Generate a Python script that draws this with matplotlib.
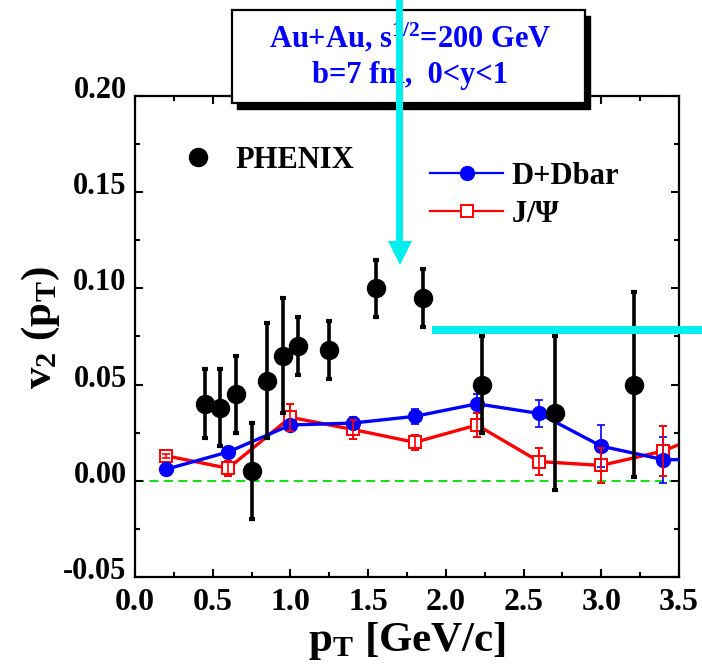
import matplotlib
matplotlib.use('Agg')
import matplotlib.pyplot as plt
import matplotlib.transforms as mtransforms
from matplotlib.lines import Line2D
from matplotlib.patches import Rectangle, Polygon
from matplotlib.ticker import MultipleLocator

plt.rcParams['font.family'] = ['Liberation Serif', 'DejaVu Serif']
plt.rcParams['font.weight'] = 'bold'
plt.rcParams['axes.labelweight'] = 'bold'
plt.rcParams['mathtext.fontset'] = 'custom'
plt.rcParams['mathtext.rm'] = 'Liberation Serif:bold'
plt.rcParams['mathtext.it'] = 'Liberation Serif:bold'
plt.rcParams['mathtext.bf'] = 'Liberation Serif:bold'

# PHENIX measured v2
phenix_pt = [0.45, 0.55, 0.65, 0.75, 0.85, 0.95, 1.05, 1.25, 1.55, 1.85, 2.23, 2.70, 3.21]
phenix_v2 = [0.040, 0.038, 0.045, 0.005, 0.052, 0.065, 0.070, 0.068, 0.100, 0.095, 0.050, 0.035, 0.050]
phenix_err = [0.018, 0.020, 0.020, 0.025, 0.030, 0.030, 0.015, 0.015, 0.015, 0.015, 0.025, 0.040, 0.048]

# model curves
model_pt = [0.2, 0.6, 1.0, 1.4, 1.8, 2.2, 2.6, 3.0, 3.4, 3.8]
d_v2 = [0.006, 0.015, 0.029, 0.030, 0.0335, 0.040, 0.035, 0.018, 0.011, 0.011]
d_err = [0.001, 0.001, 0.002, 0.003, 0.004, 0.005, 0.007, 0.011, 0.012, 0.012]
jpsi_v2 = [0.013, 0.0065, 0.033, 0.0267, 0.020, 0.029, 0.010, 0.008, 0.0155, 0.029]
jpsi_err = [0.001, 0.004, 0.007, 0.005, 0.004, 0.006, 0.007, 0.009, 0.013, 0.013]

W, H = 702, 670
fig = plt.figure(figsize=(W / 100, H / 100), dpi=100)
ax = fig.add_axes([135 / W, 1 - 577 / H, 544 / W, 481 / H])

ax.axhline(0, color='#00dd00', lw=1.3, dashes=(5, 3), zorder=1)

ax.errorbar(model_pt, jpsi_v2, yerr=jpsi_err, color='red', lw=2.4, marker='s', ms=9,
            mfc='white', mec='red', mew=1.4, elinewidth=1.2, capsize=3, capthick=1.2,
            zorder=2)
ax.errorbar(model_pt, d_v2, yerr=d_err, color='blue', lw=2.4, marker='o', ms=10,
            mfc='blue', mec='blue', elinewidth=1.2, capsize=3, capthick=1.2, zorder=3)
ax.errorbar(model_pt, jpsi_v2, yerr=jpsi_err, fmt='none', ecolor='red',
            elinewidth=1.2, capsize=3, capthick=1.2, zorder=4)
ax.errorbar(phenix_pt, phenix_v2, yerr=phenix_err, fmt='o', color='black', ms=13,
            elinewidth=2.6, capsize=2.5, capthick=3, zorder=5)

ax.set_xlim(0, 3.5)
ax.set_ylim(-0.05, 0.20)
ax.xaxis.set_major_locator(MultipleLocator(0.5))
ax.xaxis.set_minor_locator(MultipleLocator(0.25))
ax.yaxis.set_major_locator(MultipleLocator(0.05))
ax.yaxis.set_minor_locator(MultipleLocator(0.025))
ax.xaxis.set_major_formatter(plt.FormatStrFormatter('%.1f'))
ax.yaxis.set_major_formatter(plt.FormatStrFormatter('%.2f'))
ax.tick_params(which='both', direction='in', top=True, right=True, width=1.5)
ax.tick_params(which='major', length=6, labelsize=22, pad=6)
ax.tick_params(axis='x', which='major', labelsize=23, pad=8)
ax.tick_params(which='minor', length=3.5)
for s in ax.spines.values():
    s.set_linewidth(1.6)

# y tick labels sit a little above their ticks
lift = mtransforms.ScaledTranslation(0, 9 / 100, fig.dpi_scale_trans)
for lab in ax.get_yticklabels():
    lab.set_transform(lab.get_transform() + lift)

ax.set_xlabel(r'p$_\mathregular{T}$ [GeV/c]', fontsize=31, fontweight='bold', labelpad=2)
fig.text(41 / W, 1 - 328 / H, r'v$_\mathregular{2}$ (p$_\mathregular{T}$)', fontsize=31,
         fontweight='bold', rotation=90, ha='center', va='center')

# legends
ph = Line2D([], [], ls='none', marker='o', ms=13, color='black')
leg1 = ax.legend([ph], ['PHENIX'], loc='upper left', bbox_to_anchor=(45 / 544, 1 - 50 / 481),
                 frameon=False, fontsize=22, handlelength=1.2, handletextpad=0.6,
                 borderaxespad=0, borderpad=0)
ax.add_artist(leg1)
hd = Line2D([], [], color='blue', lw=1.6, marker='o', ms=10)
hj = Line2D([], [], color='red', lw=1.6, marker='s', ms=9, mfc='white', mec='red', mew=1.4)
ax.legend([hd, hj], ['D+Dbar', r'J/$\Psi$'], loc='upper left',
          bbox_to_anchor=(295 / 544, 1 - 66 / 481), frameon=False, fontsize=22,
          handlelength=2.4, handletextpad=0.25, labelspacing=0.3,
          borderaxespad=0, borderpad=0)

# info box with shadow
bx0, bx1, by0, by1 = 232, 585, 10, 103
fig.add_artist(Rectangle(((bx0 + 5) / W, 1 - (by1 + 6) / H), (bx1 - bx0) / W, (by1 - by0) / H,
                         transform=fig.transFigure, facecolor='black', edgecolor='black',
                         zorder=10))
fig.add_artist(Rectangle((bx0 / W, 1 - by1 / H), (bx1 - bx0) / W, (by1 - by0) / H,
                         transform=fig.transFigure, facecolor='white', edgecolor='black',
                         lw=1.6, zorder=11))
fig.text(410 / W, 1 - 38 / H, r'Au+Au, s$^\mathregular{1/2}$=200 GeV', color='blue',
         fontsize=22, ha='center', va='center', zorder=12)
fig.text(410 / W, 1 - 76 / H, 'b=7 fm,  0<y<1', color='blue', fontsize=22,
         ha='center', va='center', zorder=12)

# cyan arrow and bar
cyan = '#00eeee'
fig.add_artist(Rectangle((396.5 / W, 1 - 242 / H), 7 / W, 242 / H, transform=fig.transFigure,
                         facecolor=cyan, edgecolor='none', zorder=20))
fig.add_artist(Polygon([(388 / W, 1 - 241 / H), (412 / W, 1 - 241 / H), (400 / W, 1 - 265 / H)],
                       closed=True, transform=fig.transFigure, facecolor=cyan,
                       edgecolor='none', zorder=20))
fig.add_artist(Rectangle((432 / W, 1 - 333.5 / H), (W - 432) / W, 7.5 / H,
                         transform=fig.transFigure, facecolor=cyan, edgecolor='none', zorder=20))

fig.savefig('out.png', dpi=100)
